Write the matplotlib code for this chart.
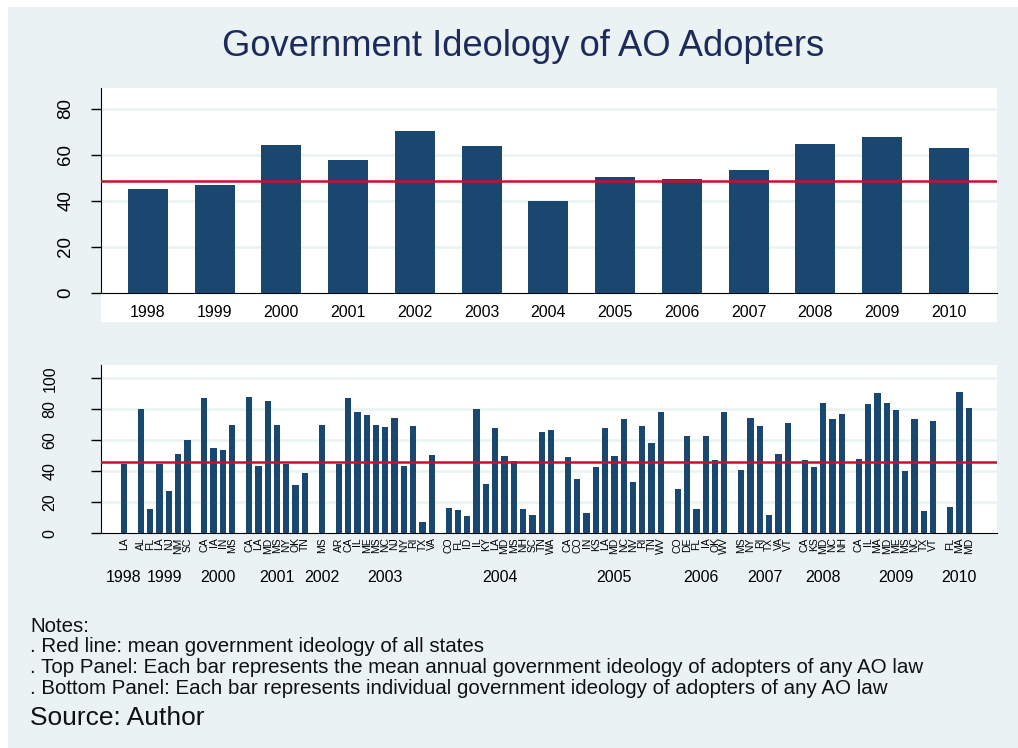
import matplotlib.pyplot as plt
from matplotlib.patches import Rectangle
from matplotlib.transforms import blended_transform_factory

plt.rcParams['font.family'] = ['Liberation Sans', 'DejaVu Sans']

# --- data ---
years = [1998, 1999, 2000, 2001, 2002, 2003, 2004, 2005, 2006, 2007, 2008, 2009, 2010]
year_means = [45.1, 46.8, 64.2, 57.7, 70.3, 63.8, 39.9, 50.3, 49.4, 53.3, 64.7, 67.7, 62.9]
top_mean = 48.4

adopter_year = ([1998] + [1999] * 6 + [2000] * 4 + [2001] * 7 + [2002] + [2003] * 11
                + [2004] * 12 + [2005] * 11 + [2006] * 6 + [2007] * 6 + [2008] * 5
                + [2009] * 9 + [2010] * 3)
adopter_state = ['LA',
                 'AL', 'FL', 'LA', 'NJ', 'NM', 'SC',
                 'CA', 'IA', 'IN', 'MS',
                 'CA', 'LA', 'MD', 'MS', 'NY', 'OK', 'TN',
                 'MS',
                 'AR', 'CA', 'IL', 'ME', 'MS', 'NC', 'NJ', 'NY', 'RI', 'TX', 'VA',
                 'CO', 'FL', 'ID', 'IL', 'KY', 'LA', 'MD', 'MS', 'NH', 'SC', 'TN', 'WA',
                 'CA', 'CO', 'IN', 'KS', 'LA', 'MD', 'NC', 'NV', 'RI', 'TN', 'WV',
                 'CO', 'DE', 'FL', 'IA', 'OK', 'WV',
                 'MS', 'NY', 'RI', 'TX', 'VA', 'VT',
                 'CA', 'KS', 'MD', 'NC', 'NH',
                 'CA', 'IL', 'MA', 'MD', 'ME', 'MS', 'NC', 'TX', 'VT',
                 'FL', 'MA', 'MD']
adopter_ideology = [44.9,
                    80.0, 15.9, 44.9, 27.1, 51.2, 60.4,
                    87.5, 55.3, 53.8, 69.9,
                    88.2, 43.4, 85.4, 69.9, 44.7, 31.2, 39.1,
                    69.9,
                    44.5, 87.1, 78.3, 76.3, 69.9, 68.6, 74.4, 43.4, 69.5, 7.1, 50.5,
                    16.3, 15.1, 11.2, 80.2, 31.8, 68.0, 49.9, 46.9, 15.5, 11.6, 65.6, 66.7,
                    49.0, 34.8, 12.9, 43.0, 68.0, 49.9, 74.0, 33.1, 69.5, 58.3, 78.3,
                    28.6, 62.6, 15.5, 63.0, 47.5, 78.3,
                    41.1, 74.6, 69.5, 11.8, 51.4, 71.2,
                    47.5, 43.0, 83.9, 73.8, 77.2,
                    48.0, 83.2, 90.8, 83.9, 79.6, 40.2, 73.8, 14.2, 72.3,
                    17.0, 91.0, 80.6]
bottom_mean = 46.2

notes = ["Notes:",
         ". Red line: mean government ideology of all states",
         ". Top Panel: Each bar represents the mean annual government ideology of adopters of any AO law",
         ". Bottom Panel: Each bar represents individual government ideology of adopters of any AO law"]

BAR = '#1A476F'
RED = '#C8102E'
BG = '#EAF2F3'
GRID = '#EAF2F3'
W, H = 1018, 748


def fx(px):
    return px / W


def fy(py):
    return 1 - py / H


fig = plt.figure(figsize=(W / 100, H / 100), dpi=100, facecolor='white')
fig.patches.append(Rectangle((fx(8), 0), 1 - fx(8), fy(7), transform=fig.transFigure,
                             facecolor=BG, edgecolor='none', zorder=-10))
# white plot box of the top panel reaches below the axis
fig.patches.append(Rectangle((fx(100.7), fy(322)), fx(997 - 100.7), (322 - 88) / H,
                             transform=fig.transFigure, facecolor='white',
                             edgecolor='none', zorder=-9))

fig.text(0.514, fy(47), "Government Ideology of AO Adopters", ha='center', va='center',
         fontsize=26.2, color='#1C2B5A')

# --- top panel ---
ax1 = fig.add_axes([fx(100.7), fy(292.7), fx(997 - 100.7), (292.7 - 88) / H])
ax1.set_facecolor('white')
xpos = list(range(len(years)))
ax1.bar(xpos, year_means, width=0.6, color=BAR, zorder=3)
ax1.axhline(top_mean, color=RED, lw=1.8, zorder=4)
ax1.set_xlim(-0.705, 12.72)
ax1.set_ylim(0, 89)
ax1.set_yticks([0, 20, 40, 60, 80])
for v in [20, 40, 60, 80]:
    ax1.axhline(v, color=GRID, lw=1.8, zorder=1)
ax1.set_xticks(xpos)
ax1.set_xticklabels([str(y) for y in years], fontsize=11.5)
ax1.tick_params(axis='x', length=0, pad=9)
ax1.tick_params(axis='y', length=7, width=1, labelsize=13.5, pad=12)
for lab in ax1.get_yticklabels():
    lab.set_rotation(90)
    lab.set_va('center')
for s in ['top', 'right']:
    ax1.spines[s].set_visible(False)

# --- bottom panel ---
group_gap = 0.82
positions = []
pos = 0.0
prev = adopter_year[0]
for yr in adopter_year:
    if positions:
        pos += 1 + (group_gap if yr != prev else 0)
    positions.append(pos)
    prev = yr

ax2 = fig.add_axes([fx(100.7), fy(533.3), fx(997 - 100.7), (533.3 - 365) / H])
ax2.set_facecolor('white')
ax2.bar(positions, adopter_ideology, width=0.68, color=BAR, zorder=3)
ax2.axhline(bottom_mean, color=RED, lw=1.8, zorder=4)
ax2.set_xlim(-2.5, positions[-1] + 3.04)
ax2.set_ylim(0, 108.6)
ax2.set_yticks([0, 20, 40, 60, 80, 100])
for v in [20, 40, 60, 80, 100]:
    ax2.axhline(v, color=GRID, lw=1.8, zorder=1)
ax2.set_xticks(positions)
ax2.set_xticklabels(adopter_state, rotation=90, fontsize=7.5)
ax2.tick_params(axis='x', length=0, pad=3)
ax2.tick_params(axis='y', length=7, width=1, labelsize=11.5, pad=24)
for lab in ax2.get_yticklabels():
    lab.set_rotation(90)
    lab.set_va('center')
for s in ['top', 'right']:
    ax2.spines[s].set_visible(False)

trans = blended_transform_factory(ax2.transData, fig.transFigure)
for yr in years:
    px = [p for p, a in zip(positions, adopter_year) if a == yr]
    ax2.text((px[0] + px[-1]) / 2, fy(578), str(yr), transform=trans, ha='center',
             va='center', fontsize=11.5)

# --- notes ---
for i, line in enumerate(notes):
    fig.text(fx(30), fy(632 + i * 20.5), line, ha='left', va='baseline', fontsize=14.8,
             color='#111111')
fig.text(fx(30), fy(725), "Source: Author", ha='left', va='baseline', fontsize=19,
         color='#111111')

fig.savefig('out.png', dpi=100, facecolor=fig.get_facecolor())
